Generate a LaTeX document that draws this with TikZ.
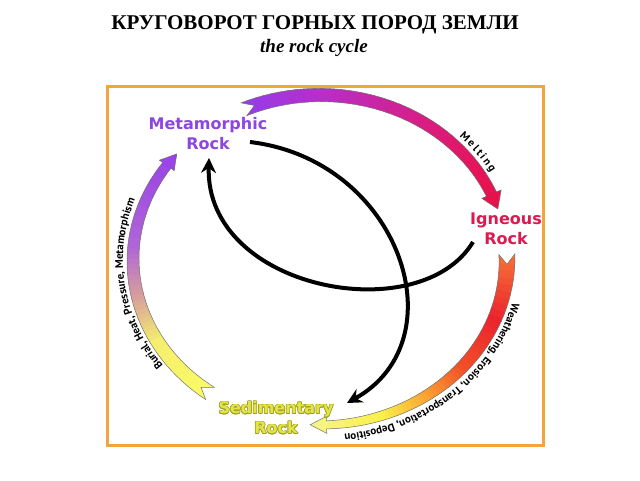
\documentclass[tikz,border=0pt]{standalone}
\usepackage{fontspec}
\setmainfont{Liberation Serif}
\newfontfamily\labelfont{DejaVu Sans}
\newfontfamily\arcfont{PT Sans}
\usepackage[copies]{contour}
\contourlength{0.6pt}
\usepackage{tikz}
\usetikzlibrary{calc}
\usetikzlibrary{arrows.meta}
\usetikzlibrary{decorations.text}

\definecolor{frameorange}{RGB}{244,164,58}
\definecolor{metapurple}{RGB}{140,70,225}
\definecolor{igncrimson}{RGB}{220,25,80}
\definecolor{sedyellow}{RGB}{228,228,70}
\definecolor{sedolive}{RGB}{160,160,40}
\definecolor{m1}{RGB}{150,60,235}
\definecolor{m2}{RGB}{185,45,200}
\definecolor{m3}{RGB}{215,30,135}
\definecolor{m4}{RGB}{230,20,90}
\definecolor{m5}{RGB}{232,15,70}
\definecolor{w1}{RGB}{245,115,55}
\definecolor{w2}{RGB}{235,35,45}
\definecolor{w3}{RGB}{242,80,40}
\definecolor{w4}{RGB}{250,165,50}
\definecolor{w5}{RGB}{250,240,75}
\definecolor{w6}{RGB}{245,245,150}
\definecolor{b1}{RGB}{250,250,100}
\definecolor{b2}{RGB}{245,238,110}
\definecolor{b3}{RGB}{215,160,155}
\definecolor{b4}{RGB}{175,100,215}
\definecolor{b5}{RGB}{150,60,235}

% the ring the three cycle arrows run on
\pgfmathdeclarefunction{ringx}{2}{\pgfmathparse{320+(187+(#2))*cos(#1)}}
\pgfmathdeclarefunction{ringy}{2}{\pgfmathparse{220+(165+(#2))*sin(#1)}}

% tail, neck, tip angle, tail/neck/head half width, notch angle
\newcommand{\cyclepath}[7]{%
  plot[domain=#1:#2,samples=40] ({ringx(\x,#4+(#5-#4)*(\x-#1)/(#2-#1))},{ringy(\x,#4+(#5-#4)*(\x-#1)/(#2-#1))})
  -- ({ringx(#2,#6)},{ringy(#2,#6)}) -- ({ringx(#3,0)},{ringy(#3,0)}) -- ({ringx(#2,-#6)},{ringy(#2,-#6)})
  -- plot[domain=#2:#1,samples=40] ({ringx(\x,-#4-(#5-#4)*(\x-#1)/(#2-#1))},{ringy(\x,-#4-(#5-#4)*(\x-#1)/(#2-#1))})
  -- ({ringx(#7,0)},{ringy(#7,0)}) -- cycle}

% colour steps along the ring: from/to/colour/colour
\newcommand{\cyclefill}[1]{%
  \foreach \fa/\fb/\ca/\cb in {#1}{
    \foreach \k in {0,...,9}{
      \pgfmathsetmacro\ua{\fa+(\fb-\fa)*\k/10}
      \pgfmathsetmacro\ub{\fa+(\fb-\fa)*(\k+1.5)/10}
      \pgfmathsetmacro\pc{10*\k}
      \fill[\cb!\pc!\ca] ({ringx(\ua,-30)},{ringy(\ua,-30)}) -- ({ringx(\ua,30)},{ringy(\ua,30)})
        -- ({ringx(\ub,30)},{ringy(\ub,30)}) -- ({ringx(\ub,-30)},{ringy(\ub,-30)}) -- cycle;
    }}}

\newcommand{\arcstyle}{\arcfont\bfseries\fontsize{11}{13}\selectfont}

\begin{document}
\begin{tikzpicture}[x=1pt,y=1pt,
    rocklabel/.style={font=\labelfont\bfseries\fontsize{16}{20}\selectfont, align=center, inner sep=0pt},
    rim/.style={draw=black!55, line width=0.5pt},
    flow/.style={line width=4pt, -{Stealth[length=15pt,width=15pt,inset=5pt]}}]
\useasboundingbox (0,0) rectangle (640,480);

\node[anchor=base, font=\bfseries\fontsize{21}{24}\selectfont] (title) at (315,450) {КРУГОВОРОТ ГОРНЫХ ПОРОД ЗЕМЛИ};
\node[anchor=base, font=\bfseries\itshape\fontsize{19}{22}\selectfont] (subtitle) at (314,427) {the rock cycle};

% melting
\begin{scope}
  \clip \cyclepath{114}{23.5}{18}{7}{5.5}{10.5}{110.5};
  \cyclefill{115/90/m1/m2, 90/60/m2/m3, 60/35/m3/m4, 35/16/m4/m5}
\end{scope}
\path[rim] \cyclepath{114}{23.5}{18}{7}{5.5}{10.5}{110.5};

% weathering
\begin{scope}
  \clip \cyclepath{362}{272}{267}{8}{4}{8.5}{358.5};
  \cyclefill{363/340/w1/w2, 340/320/w2/w3, 320/305/w3/w4, 305/290/w4/w5, 290/265/w5/w6}
\end{scope}
\path[rim] \cyclepath{362}{272}{267}{8}{4}{8.5}{358.5};

% burial
\begin{scope}
  \clip \cyclepath{234}{145}{140}{7.5}{5}{9}{230.5};
  \cyclefill{235/210/b1/b2, 210/194/b2/b3, 194/176/b3/b4, 176/138/b4/b5}
\end{scope}
\path[rim] \cyclepath{234}{145}{140}{7.5}{5}{9}{230.5};

\path[decorate, decoration={text along path, text align=center,
    text={|\arcstyle|{M\kern2pt}{e\kern2pt}{l\kern2pt}{t\kern2pt}{i\kern2pt}{n\kern2pt}g}}]
  ({ringx(60,10)},{ringy(60,10)}) arc[start angle=60, end angle=14, x radius=197, y radius=175];
\path[decorate, decoration={text along path, text align=center,
    text={|\arcstyle|Weathering, Erosion, Transportation, Deposition}}]
  ({ringx(373,11)},{ringy(373,11)}) arc[start angle=373, end angle=253, x radius=198, y radius=176];
\path[decorate, decoration={text along path, text align=center,
    text={|\arcstyle|Burial, Heat, Pressure, Metamorphism}}]
  ({ringx(248,10)},{ringy(248,10)}) arc[start angle=248, end angle=128, x radius=197, y radius=175];

\node[rocklabel, text=metapurple] (meta) at (208,346) {Metamorphic\\Rock};
\node[rocklabel, text=igncrimson] (ign) at (506,251) {Igneous\\Rock};
\node[rocklabel, text=sedyellow] (sed) at (276,62) {\contour{sedolive}{Sedimentary}\\\contour{sedolive}{Rock}};

\draw[flow] ([shift={(42,-8)}]meta.center) .. controls (400,320) and (460,140) .. ([shift={(71,15)}]sed.center);
\draw[flow] ([shift={(-33,-13)}]ign.center) .. controls (420,150) and (205,190) .. ([shift={(1,-24)}]meta.center);

\draw[frameorange, line width=3pt] (107,35) rectangle (543,393);
\end{tikzpicture}
\end{document}
